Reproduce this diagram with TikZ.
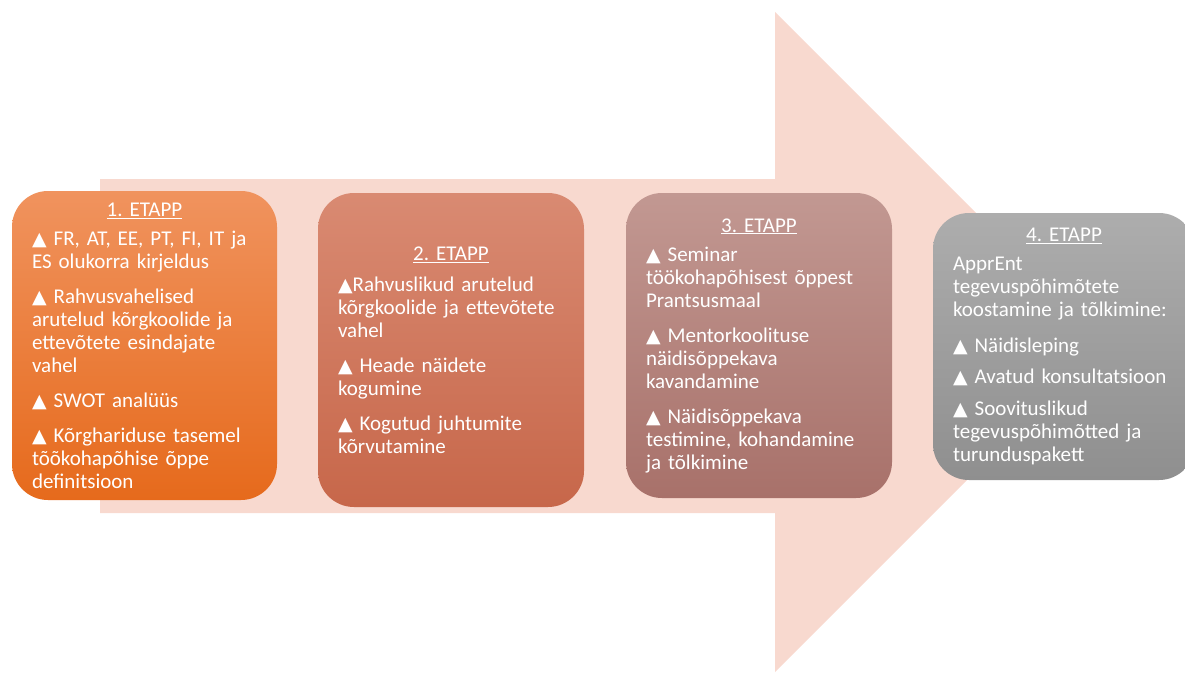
\documentclass[tikz,border=0pt]{standalone}
\usepackage{fontspec}
\setmainfont{Carlito}
\newfontfamily\symf{DejaVu Sans}
\newcommand{\tri}{{\symf\fontsize{19}{19}\selectfont ▲}}
\newcommand{\ttl}[1]{\makebox[\linewidth]{\underline{#1}}}
\definecolor{arrowc}{HTML}{F8D9CF}
\definecolor{aT}{HTML}{F0935E}\definecolor{aB}{HTML}{E66A1C}
\definecolor{bT}{HTML}{D98A72}\definecolor{bB}{HTML}{C7674A}
\definecolor{cT}{HTML}{C29892}\definecolor{cB}{HTML}{A8716A}
\definecolor{dT}{HTML}{ADADAD}\definecolor{dB}{HTML}{8F8F8F}
\frenchspacing
\begin{document}
\begin{tikzpicture}[x=1pt,y=-1pt,
  stage/.style={rounded corners=36pt, inner xsep=20pt, inner ysep=0pt,
    text=white, align=left, font=\fontsize{21}{23}\selectfont\frenchspacing, anchor=center}]
\useasboundingbox (0,0) rectangle (1185,674);
\fill[arrowc] (100,179) -- (775,179) -- (775,12) -- (1105,342) -- (775,672) -- (775,513) -- (100,513) -- cycle;
\node[stage, top color=aT, bottom color=aB, minimum width=265pt, minimum height=309pt, text width=225pt] (s1) at (144.5,345.5)
 {\ttl{1.\ ETAPP}\\[6pt]
  \tri\ FR, AT, EE, PT, FI, IT ja\\ES olukorra kirjeldus\\[12pt]
  \tri\ Rahvusvahelised\\arutelud kõrgkoolide ja\\ettevõtete esindajate\\vahel\\[12pt]
  \tri\ SWOT analüüs\\[12pt]
  \tri\ Kõrghariduse tasemel\\tõõkohapõhise õppe\\definitsioon};
\node[stage, top color=bT, bottom color=bB, minimum width=266pt, minimum height=314pt, text width=226pt] (s2) at (451,350)
 {\ttl{2.\ ETAPP}\\[8pt]
  \tri Rahvuslikud arutelud\\kõrgkoolide ja ettevõtete\\vahel\\[12pt]
  \tri\ Heade näidete\\kogumine\\[12pt]
  \tri\ Kogutud juhtumite\\kõrvutamine};
\node[stage, top color=cT, bottom color=cB, minimum width=266pt, minimum height=305pt, text width=226pt] (s3) at (759,345.5)
 {\ttl{3.\ ETAPP}\\[6pt]
  \tri\ Seminar\\töökohapõhisest õppest\\Prantsusmaal\\[12pt]
  \tri\ Mentorkoolituse\\näidisõppekava\\kavandamine\\[12pt]
  \tri\ Näidisõppekava\\testimine, kohandamine\\ja tõlkimine};
\node[stage, top color=dT, bottom color=dB, minimum width=262pt, minimum height=267pt, text width=222pt] (s4) at (1064,346.5)
 {\ttl{4.\ ETAPP}\\[6pt]
  ApprEnt\\tegevuspõhimõtete\\koostamine ja tõlkimine:\\[13pt]
  \tri\ Näidisleping\\[8pt]
  \tri\ Avatud konsultatsioon\\[9pt]
  \tri\ Soovituslikud\\tegevuspõhimõtted ja\\turunduspakett};
\end{tikzpicture}
\end{document}
